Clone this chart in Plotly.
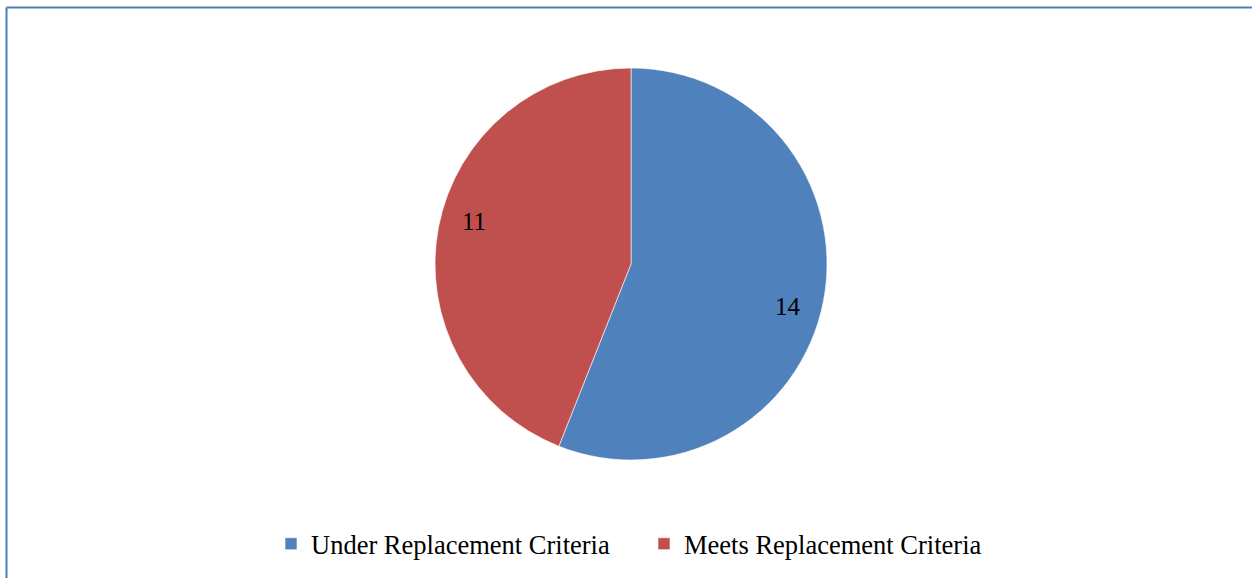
import math
import plotly.graph_objects as go

labels = ["Under Replacement Criteria", "Meets Replacement Criteria"]
values = [14, 11]
colors = ["#4f81bd", "#c0504d"]

W, H = 1252, 578
cx, cy, r = 631, 264, 196  # pie centre / radius in pixels

fig = go.Figure()
fig.add_trace(go.Pie(
    labels=labels,
    values=values,
    sort=False,
    direction="clockwise",
    rotation=0,
    marker=dict(colors=colors, line=dict(color="rgba(255,255,255,0.6)", width=1)),
    textinfo="none",
    hoverinfo="label+value",
    domain=dict(x=[(cx - r) / W, (cx + r) / W],
                y=[(H - cy - r) / H, (H - cy + r) / H]),
    showlegend=True,
))

# data labels near the rim of each slice (best-fit style)
total = sum(values)
start = 0.0
annotations = []
for v in values:
    mid = (start + v / 2) / total * 2 * math.pi + math.radians(4.5)
    start += v
    px = cx + 0.83 * r * math.sin(mid)
    py = cy - 0.83 * r * math.cos(mid)
    annotations.append(dict(
        x=px / W, y=1 - py / H, xref="paper", yref="paper",
        text=str(v), showarrow=False,
        font=dict(family="Liberation Serif", size=25, color="black"),
    ))

fig.update_layout(
    width=W, height=H,
    margin=dict(l=0, r=0, t=0, b=0),
    paper_bgcolor="white",
    plot_bgcolor="white",
    annotations=annotations,
    legend=dict(
        orientation="h",
        x=271 / W, xanchor="left",
        y=(H - 544) / H, yanchor="middle",
        entrywidth=328, entrywidthmode="pixels",
        font=dict(family="Liberation Serif", size=26.5, color="black"),
        bgcolor="rgba(0,0,0,0)",
    ),
    shapes=[
        dict(type="line", xref="paper", yref="paper",
             x0=6.5 / W, x1=1.02, y0=1 - 7.5 / H, y1=1 - 7.5 / H,
             line=dict(color="#4a7ebb", width=2)),
        dict(type="line", xref="paper", yref="paper",
             x0=6.5 / W, x1=6.5 / W, y0=-0.02, y1=1 - 7.5 / H,
             line=dict(color="#4a7ebb", width=2)),
    ],
)

fig.write_html("out.html")
